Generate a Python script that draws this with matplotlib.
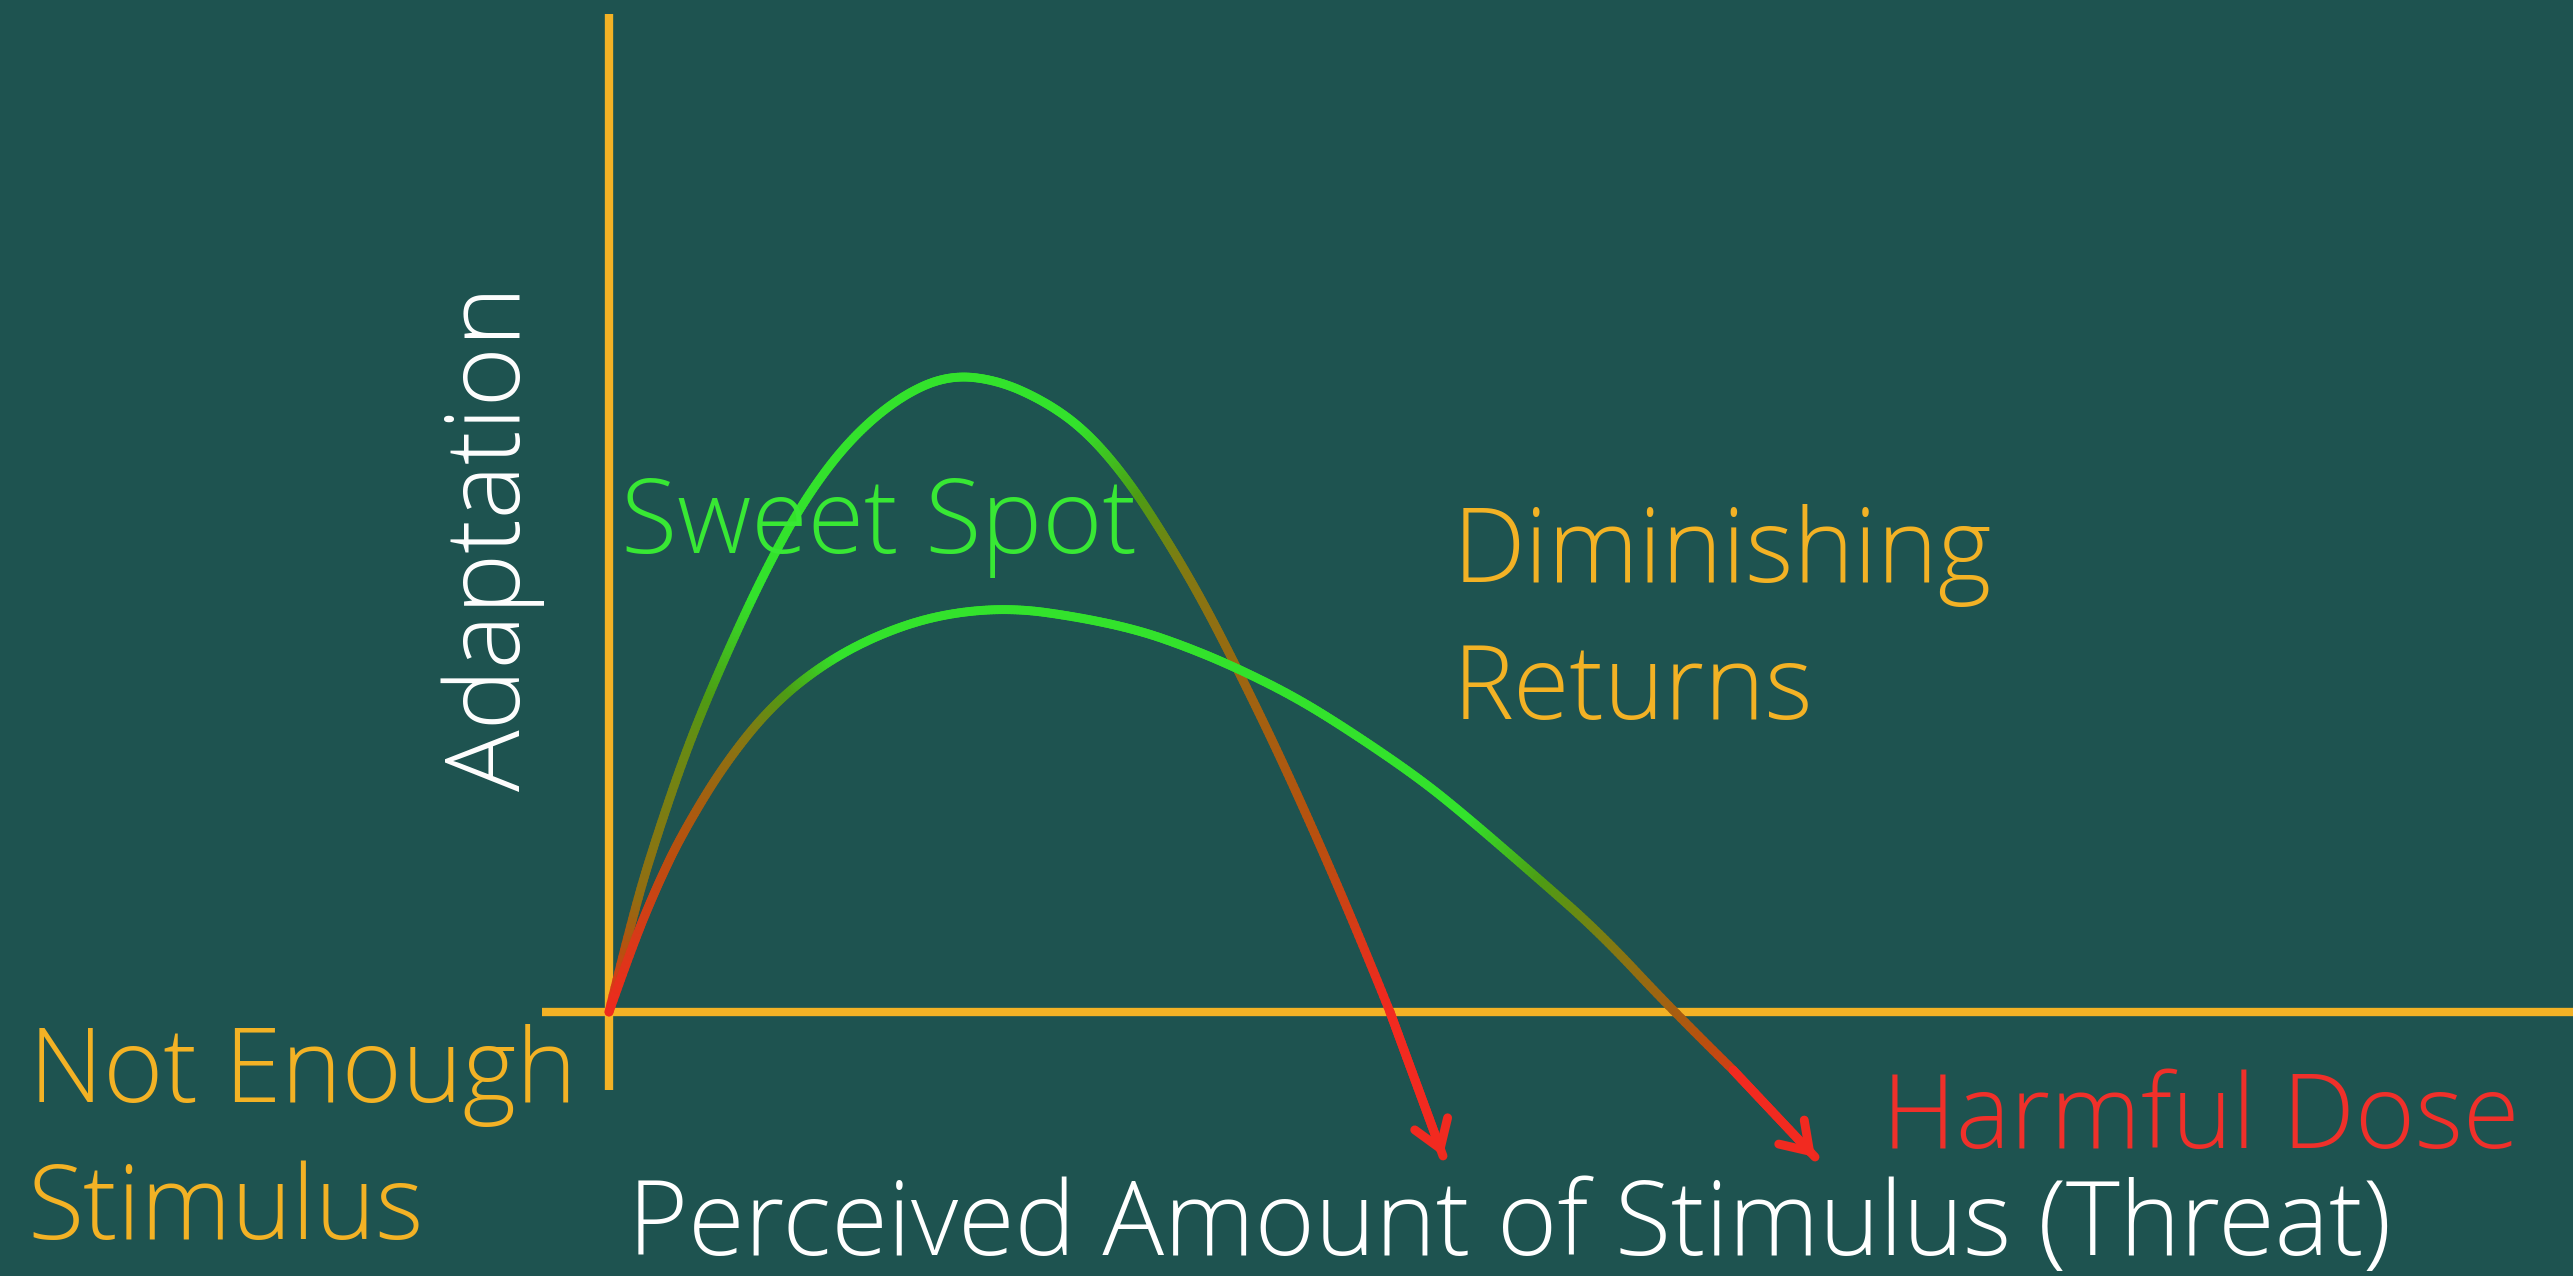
import numpy as np
import matplotlib
matplotlib.use('Agg')
import matplotlib.pyplot as plt
from matplotlib.collections import LineCollection
from matplotlib.colors import LinearSegmentedColormap

# curve points (stimulus, adaptation), origin where the axes cross
sweetX = [0.00, 0.24, 0.49, 0.81, 1.16, 1.55, 1.95, 2.40, 2.90, 3.39, 3.89, 4.39, 4.79,
          5.19, 5.58, 5.93, 6.28, 6.68, 7.12, 7.56, 7.81, 8.34]
sweetY = [0.00, 0.98, 1.80, 2.72, 3.55, 4.39, 5.12, 5.72, 6.15, 6.37, 6.32, 6.09, 5.79,
          5.32, 4.72, 4.12, 3.44, 2.62, 1.65, 0.62, 0.00, -1.44]
flatX = [0.00, 0.24, 0.48, 0.73, 1.16, 1.65, 2.20, 2.80, 3.39, 4.04, 4.69, 5.29, 5.78,
         6.28, 6.88, 7.47, 8.11, 8.58, 9.24, 9.91, 10.64, 11.24, 12.06]
flatY = [0.00, 0.68, 1.26, 1.78, 2.49, 3.09, 3.52, 3.82, 3.99, 4.04, 3.95, 3.82, 3.65,
         3.44, 3.14, 2.77, 2.33, 1.95, 1.38, 0.79, 0.01, -0.58, -1.45]

# colour along each curve: 0 = red, 1 = green, by fraction of the path length
sweetStops = [0.0, 0.07, 0.17, 0.26, 0.52, 0.62, 0.70, 0.82, 0.90, 1.0]
sweetShade = [0.0, 0.45, 0.65, 1.0, 1.0, 0.55, 0.4, 0.22, 0.0, 0.0]
flatStops = [0.0, 0.05, 0.13, 0.20, 0.27, 0.70, 0.76, 0.83, 0.89, 0.95, 1.0]
flatShade = [0.0, 0.1, 0.3, 0.55, 1.0, 1.0, 0.75, 0.5, 0.3, 0.05, 0.0]

labels = {
    'sweet': 'Sweet Spot',
    'diminishing': 'Diminishing',
    'returns': 'Returns',
    'notEnough': 'Not Enough',
    'stimulus': 'Stimulus',
    'harmful': 'Harmful Dose',
    'xlabel': 'Perceived Amount of Stimulus (Threat)',
    'ylabel': 'Adaptation',
}

bg = '#1e5350'
yellow = '#f3b225'
green = '#38e834'
red = '#f0302a'
white = '#ffffff'
font = ['Open Sans', 'Lato', 'DejaVu Sans']
fs = 74

grad = LinearSegmentedColormap.from_list(
    'redgreen', ['#ee2a1e', '#b8500f', '#8a7412', '#4e9c14', '#33e22c'])


def smoothPath(x, y, n=24):
    # corner-cutting through the read points: quadratic pieces between midpoints
    p = np.column_stack([x, y])
    mids = (p[:-1] + p[1:]) / 2
    out = [p[0]]
    t = np.linspace(0, 1, n)[1:, None]
    start = p[0]
    for i in range(1, len(p) - 1):
        end = mids[i] if i < len(p) - 2 else p[-1]
        ctrl = p[i]
        out.extend((1 - t) ** 2 * start + 2 * (1 - t) * t * ctrl + t ** 2 * end)
        start = end
    return np.array(out)


def gradientLine(ax, x, y, stops, shade, lw=6.4):
    pts = smoothPath(x[:-1], y[:-1])
    # straight arrow shaft to the tip
    t = np.linspace(0, 1, 20)[1:, None]
    tip = np.array([x[-1], y[-1]])
    pts = np.vstack([pts, pts[-1] + (tip - pts[-1]) * t])
    d = np.concatenate([[0], np.cumsum(np.hypot(*np.diff(pts, axis=0).T))])
    frac = d / d[-1]
    segs = np.stack([pts[:-1], pts[1:]], axis=1)
    mid = (frac[:-1] + frac[1:]) / 2
    cols = grad(np.interp(mid, stops, shade))
    lc = LineCollection(segs, colors=cols, linewidths=lw, capstyle='round', joinstyle='round')
    ax.add_collection(lc)
    ax.annotate('', xy=(x[-1], y[-1]), xytext=(x[-2], y[-2]),
                arrowprops=dict(arrowstyle='->,head_length=0.45,head_width=0.3',
                                color='#f22a20', lw=lw, mutation_scale=42,
                                shrinkA=0, shrinkB=0, capstyle='round', joinstyle='miter'))


fig = plt.figure(figsize=(25.73, 12.76), dpi=100, facecolor=bg)
ax = fig.add_axes([0, 0, 1, 1])
ax.set_facecolor(bg)
ax.set_xlim(-6.09, 19.64)
ax.set_ylim(-2.64, 10.12)
ax.axis('off')

# axes lines
ax.plot([0, 0], [-0.78, 9.98], color=yellow, lw=6, solid_capstyle='butt')
ax.plot([-0.67, 19.64], [0, 0], color=yellow, lw=6, solid_capstyle='butt')

gradientLine(ax, sweetX, sweetY, sweetStops, sweetShade)
gradientLine(ax, flatX, flatY, flatStops, flatShade)

txt = dict(family=font, weight='light', fontsize=fs)
ax.text(0.12, 4.59, labels['sweet'], color=green, va='baseline', **txt)
ax.text(8.44, 4.30, labels['diminishing'], color=yellow, va='baseline', **txt)
ax.text(8.44, 2.93, labels['returns'], color=yellow, va='baseline', **txt)
ax.text(-5.80, -0.90, labels['notEnough'], color=yellow, va='baseline', **txt)
ax.text(-5.82, -2.27, labels['stimulus'], color=yellow, va='baseline', **txt)
ax.text(12.73, -1.36, labels['harmful'], color=red, va='baseline', **txt)
ax.text(0.19, -2.43, labels['xlabel'], color=white, va='baseline', **txt)
ax.text(-0.89, 4.74, labels['ylabel'], color=white, rotation=90, rotation_mode='anchor',
        ha='center', va='baseline', **txt)

fig.savefig('out.png', dpi=100, facecolor=bg)
